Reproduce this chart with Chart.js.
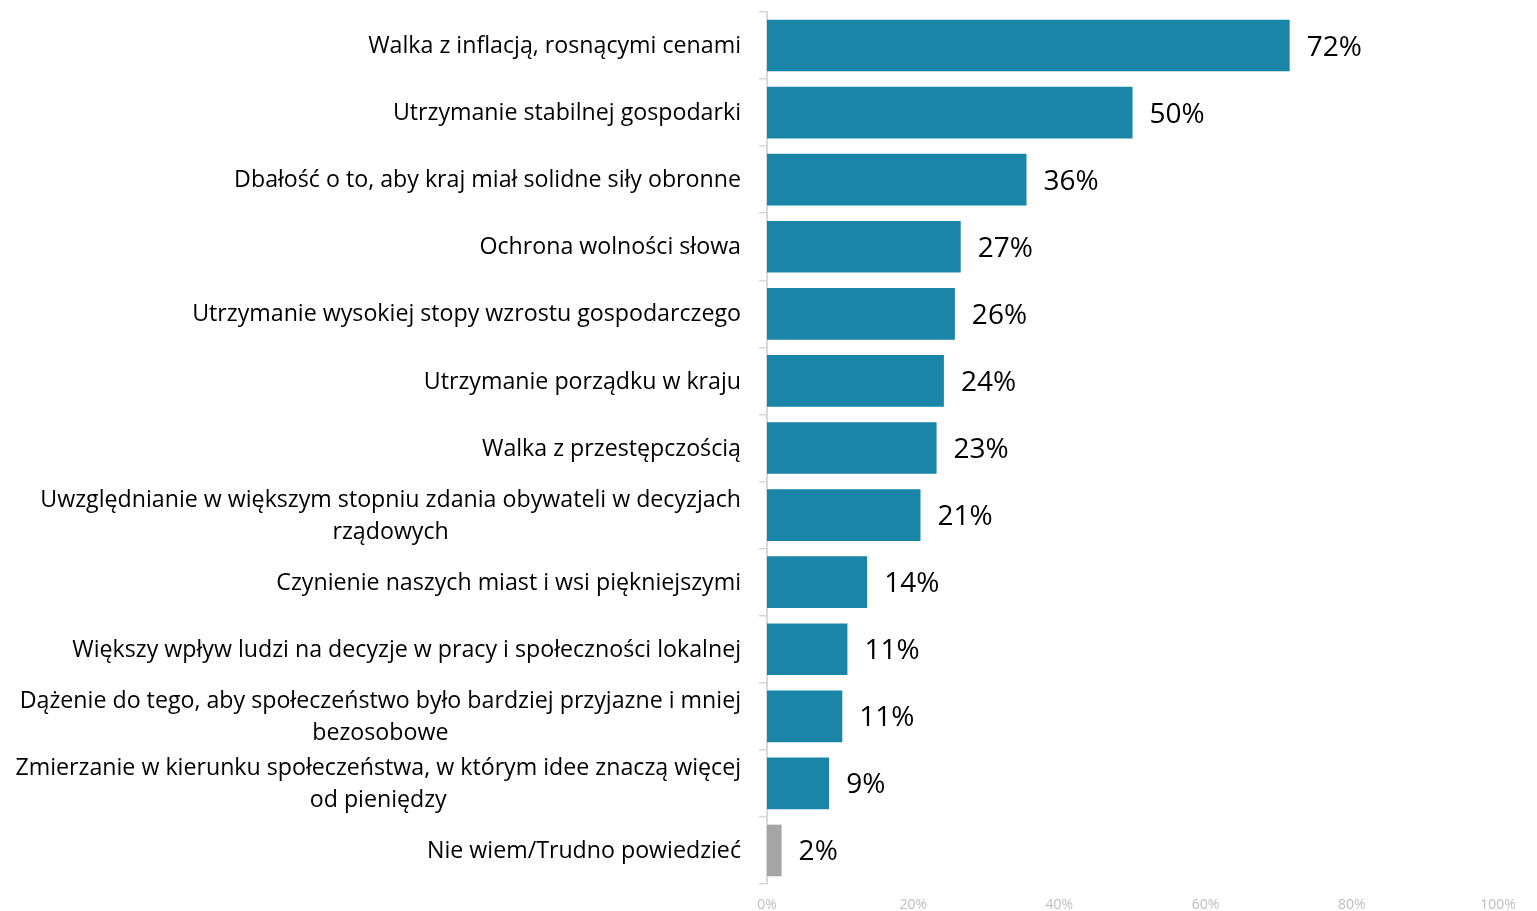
<!DOCTYPE html>
<html><head><meta charset="utf-8">
<script src="https://cdn.jsdelivr.net/npm/chart.js@4/dist/chart.umd.min.js"></script>
<style>html,body{margin:0;padding:0;background:#fff}#wrap{width:1537px;height:911px}</style>
</head><body><div id="wrap"><canvas id="c" width="1537" height="911"></canvas></div>
<script>
const categories = [
  ["Walka z inflacją, rosnącymi cenami"],
  ["Utrzymanie stabilnej gospodarki"],
  ["Dbałość o to, aby kraj miał solidne siły obronne"],
  ["Ochrona wolności słowa"],
  ["Utrzymanie wysokiej stopy wzrostu gospodarczego"],
  ["Utrzymanie porządku w kraju"],
  ["Walka z przestępczością"],
  ["Uwzględnianie w większym stopniu zdania obywateli w decyzjach", "rządowych"],
  ["Czynienie naszych miast i wsi piękniejszymi"],
  ["Większy wpływ ludzi na decyzje w pracy i społeczności lokalnej"],
  ["Dążenie do tego, aby społeczeństwo było bardziej przyjazne i mniej", "bezosobowe"],
  ["Zmierzanie w kierunku społeczeństwa, w którym idee znaczą więcej", "od pieniędzy"],
  ["Nie wiem/Trudno powiedzieć"]
];
const values = [71.5, 50, 35.5, 26.5, 25.7, 24.2, 23.2, 21, 13.7, 11, 10.3, 8.5, 2];
const valueLabels = ["72%","50%","36%","27%","26%","24%","23%","21%","14%","11%","11%","9%","2%"];
const xTicks = [0, 20, 40, 60, 80, 100];
const barColors = values.map((v, i) => i === values.length - 1 ? "#a5a5a5" : "#1a85a6");

const FONT = "'Open Sans', sans-serif";

const labelPlugin = {
  id: 'customLabels',
  afterDraw(chart) {
    const ctx = chart.ctx;
    const y = chart.scales.y;
    ctx.save();
    ctx.font = "23.2px " + FONT;
    ctx.fillStyle = "#000";
    ctx.textBaseline = "middle";
    ctx.textAlign = "center";
    const rightEdge = chart.chartArea.left - 26;
    const lh = 32;
    categories.forEach((lines, i) => {
      const cy = y.getPixelForValue(i) + 1;
      const maxW = Math.max(...lines.map(l => ctx.measureText(l).width));
      const cx = rightEdge - maxW / 2;
      const top = cy - (lines.length - 1) * lh / 2;
      lines.forEach((l, j) => ctx.fillText(l, cx, top + j * lh));
    });
    ctx.font = "28px " + FONT;
    ctx.textAlign = "left";
    const meta = chart.getDatasetMeta(0);
    meta.data.forEach((bar, i) => {
      ctx.fillText(valueLabels[i], bar.x + 17, bar.y + 2);
    });
    ctx.restore();
  }
};

new Chart(document.getElementById('c'), {
  type: 'bar',
  data: {
    labels: categories,
    datasets: [{
      data: values,
      backgroundColor: barColors,
      borderWidth: 0,
      categoryPercentage: 0.77,
      barPercentage: 1.0
    }]
  },
  options: {
    indexAxis: 'y',
    responsive: false,
    animation: false,
    devicePixelRatio: 1,
    layout: { padding: { top: 12, right: 39, bottom: 0, left: 0 } },
    plugins: { legend: { display: false }, tooltip: { enabled: false } },
    scales: {
      x: {
        min: 0, max: 100,
        afterBuildTicks(scale) { scale.ticks = xTicks.map(v => ({ value: v })); },
        afterFit(scale) { scale.height = 27; },
        ticks: {
          callback: v => v + "%",
          color: "#bfbfbf",
          font: { family: FONT, size: 14 },
          padding: 13,
          maxRotation: 0
        },
        grid: { display: false, drawTicks: false },
        border: { display: false }
      },
      y: {
        offset: true,
        afterFit(scale) { scale.width = 767; },
        ticks: { display: false },
        grid: {
          offset: true,
          drawOnChartArea: false,
          drawTicks: true,
          tickLength: 8,
          color: "#d9d9d9",
          lineWidth: 1.5
        },
        border: { display: true, color: "#d9d9d9", width: 2 }
      }
    }
  },
  plugins: [labelPlugin]
});
</script>
</body></html>
